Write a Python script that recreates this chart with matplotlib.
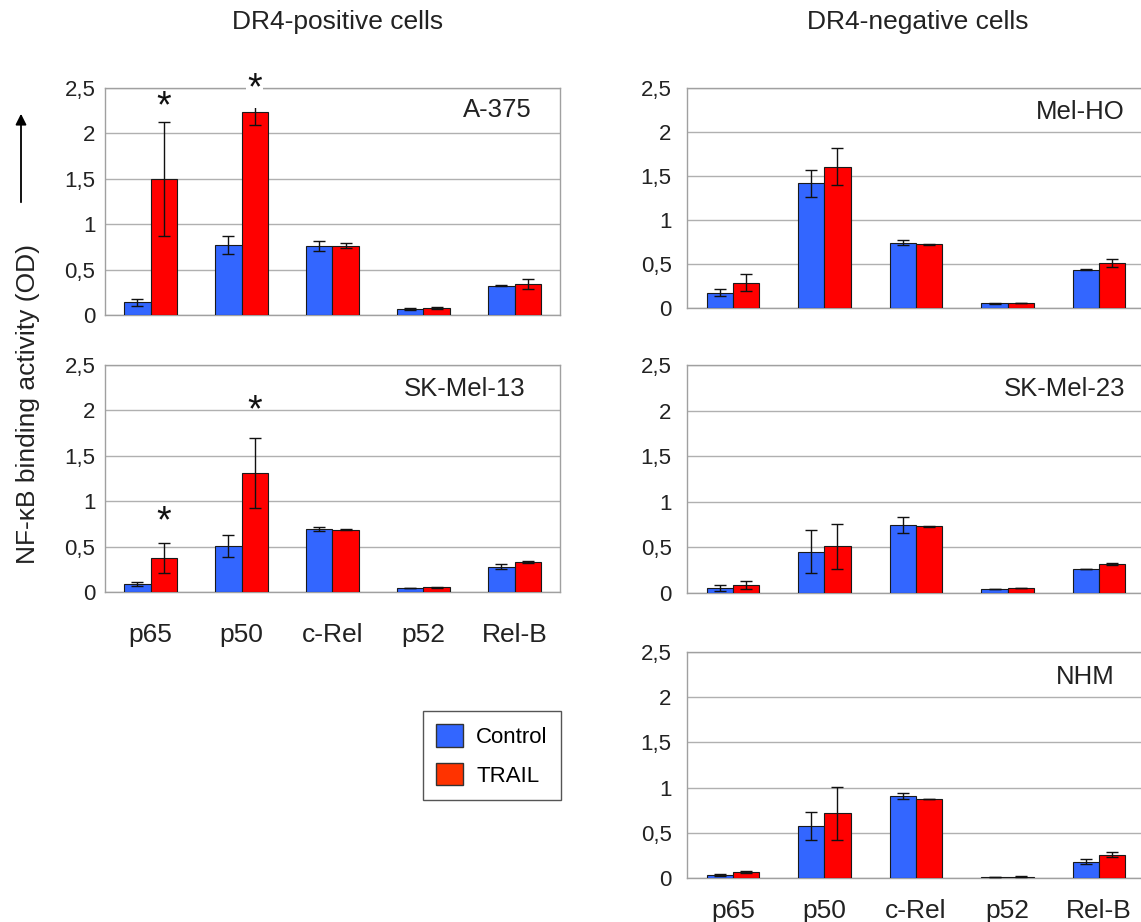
import numpy as np
import matplotlib.pyplot as plt
from matplotlib.patches import Patch, FancyArrowPatch

plt.rcParams['font.family'] = ['Liberation Sans', 'DejaVu Sans']

# categories and axis labels
factors = ['p65', 'p50', 'c-Rel', 'p52', 'Rel-B']
yticks = [0, 0.5, 1, 1.5, 2, 2.5]
ytick_labels = ['0', '0,5', '1', '1,5', '2', '2,5']

# A-375 (DR4 positive)
a375_ctrl = [0.14, 0.77, 0.765, 0.066, 0.32]
a375_ctrl_err = [0.04, 0.10, 0.055, 0.01, 0.005]
a375_trail = [1.50, 2.235, 0.765, 0.077, 0.34]
a375_trail_err = [0.63, 0.14, 0.03, 0.01, 0.055]
# significance marks: (factor index, height, white box behind)
a375_stars = [(0, 2.29, False), (1, 2.49, True)]

# SK-Mel-13 (DR4 positive)
skmel13_ctrl = [0.088, 0.509, 0.695, 0.044, 0.278]
skmel13_ctrl_err = [0.025, 0.12, 0.02, 0.005, 0.025]
skmel13_trail = [0.377, 1.31, 0.688, 0.051, 0.326]
skmel13_trail_err = [0.165, 0.385, 0.01, 0.005, 0.01]
skmel13_stars = [(0, 0.77, False), (1, 1.99, False)]

# Mel-HO (DR4 negative)
melho_ctrl = [0.171, 1.417, 0.741, 0.053, 0.437]
melho_ctrl_err = [0.04, 0.155, 0.027, 0.005, 0.005]
melho_trail = [0.289, 1.603, 0.726, 0.057, 0.513]
melho_trail_err = [0.10, 0.21, 0.005, 0.0, 0.045]

# SK-Mel-23 (DR4 negative)
skmel23_ctrl = [0.055, 0.453, 0.745, 0.044, 0.263]
skmel23_ctrl_err = [0.036, 0.235, 0.085, 0.0, 0.005]
skmel23_trail = [0.088, 0.511, 0.734, 0.051, 0.314]
skmel23_trail_err = [0.042, 0.25, 0.005, 0.0, 0.01]

# NHM
nhm_ctrl = [0.037, 0.571, 0.907, 0.011, 0.18]
nhm_ctrl_err = [0.01, 0.156, 0.03, 0.0, 0.025]
nhm_trail = [0.066, 0.715, 0.87, 0.015, 0.258]
nhm_trail_err = [0.015, 0.29, 0.0, 0.005, 0.028]

W, H = 1141, 922
fig = plt.figure(figsize=(W / 100, H / 100), dpi=100)

# name, data, stars, pixel box (l, t, r, b), show x labels, label pos, ytick pad, xtick pad
panels = [
    ('A-375', a375_ctrl, a375_ctrl_err, a375_trail, a375_trail_err, a375_stars,
     (105, 88, 560, 315), False, (0.938, 0.905), 7, 22),
    ('SK-Mel-13', skmel13_ctrl, skmel13_ctrl_err, skmel13_trail, skmel13_trail_err, skmel13_stars,
     (105, 365, 560, 592), True, (0.925, 0.894), 7, 22),
    ('Mel-HO', melho_ctrl, melho_ctrl_err, melho_trail, melho_trail_err, [],
     (687, 88, 1145, 308), False, (0.956, 0.89), 11, 15),
    ('SK-Mel-23', skmel23_ctrl, skmel23_ctrl_err, skmel23_trail, skmel23_trail_err, [],
     (687, 365, 1145, 593), False, (0.956, 0.894), 11, 15),
    ('NHM', nhm_ctrl, nhm_ctrl_err, nhm_trail, nhm_trail_err, [],
     (687, 652, 1145, 878), True, (0.934, 0.89), 11, 15),
]

blue = '#3366ff'
red = '#ff0000'
x = np.arange(len(factors))
w = 0.286

for name, ctrl, ctrl_err, trail, trail_err, stars, box, show_x, lab_pos, ypad, xpad in panels:
    l, t, r, b = box
    ax = fig.add_axes([l / W, 1 - b / H, (r - l) / W, (b - t) / H])
    ekw = dict(elinewidth=1, capthick=1, ecolor='#111111')
    ax.bar(x - w / 2, ctrl, w, color=blue, edgecolor='#1a1a1a', linewidth=0.8,
           yerr=ctrl_err, capsize=4, error_kw=ekw, zorder=3)
    ax.bar(x + w / 2, trail, w, color=red, edgecolor='#1a1a1a', linewidth=0.8,
           yerr=trail_err, capsize=4, error_kw=ekw, zorder=3)
    for i, ys, boxed in stars:
        bb = dict(facecolor='white', edgecolor='none', pad=1) if boxed else None
        ax.text(x[i] + w / 2, ys, '*', ha='center', va='center', fontsize=27,
                color='#111111', zorder=4, bbox=bb)
    ax.set_xlim(-0.5, 4.5)
    ax.set_ylim(0, 2.5)
    ax.set_yticks(yticks, ytick_labels)
    ax.set_xticks(x, factors if show_x else [''] * len(factors))
    ax.yaxis.grid(True, color='#b0b0b0', linewidth=1)
    ax.set_axisbelow(True)
    for s in ax.spines.values():
        s.set_color('#a0a0a0')
        s.set_linewidth(1)
    ax.tick_params(axis='y', length=0, labelsize=16, pad=ypad, labelcolor='#222222')
    ax.tick_params(axis='x', length=0, labelsize=19, pad=xpad, labelcolor='#222222')
    ax.text(lab_pos[0], lab_pos[1], name, transform=ax.transAxes, ha='right',
            va='center', fontsize=18.5, color='#222222')

# column titles
fig.text(338 / W, 1 - 22 / H, 'DR4-positive cells', ha='center', va='center',
         fontsize=19, color='#222222')
fig.text(918 / W, 1 - 22 / H, 'DR4-negative cells', ha='center', va='center',
         fontsize=19, color='#222222')

# y label with arrow
fig.text(28 / W, 1 - 404 / H, 'NF-\u03baB binding activity (OD)', rotation=90,
         ha='center', va='center', fontsize=19, color='#222222')
arrow = FancyArrowPatch((21 / W, 1 - 205 / H), (21 / W, 1 - 111 / H),
                        transform=fig.transFigure, arrowstyle='-|>',
                        mutation_scale=16, color='black', linewidth=1.3)
fig.add_artist(arrow)

# legend
handles = [Patch(facecolor=blue, edgecolor='#333333'),
           Patch(facecolor='#ff3300', edgecolor='#333333')]
fig.legend(handles, ['Control', 'TRAIL'], loc='upper left',
           bbox_to_anchor=(423 / W, 1 - 711 / H), fontsize=16, frameon=True,
           fancybox=False, edgecolor='#555555', framealpha=1,
           handlelength=1.2, handleheight=1.2, borderpad=0.6,
           labelspacing=0.65, handletextpad=0.6, borderaxespad=0)

fig.savefig('out.png', dpi=100)
